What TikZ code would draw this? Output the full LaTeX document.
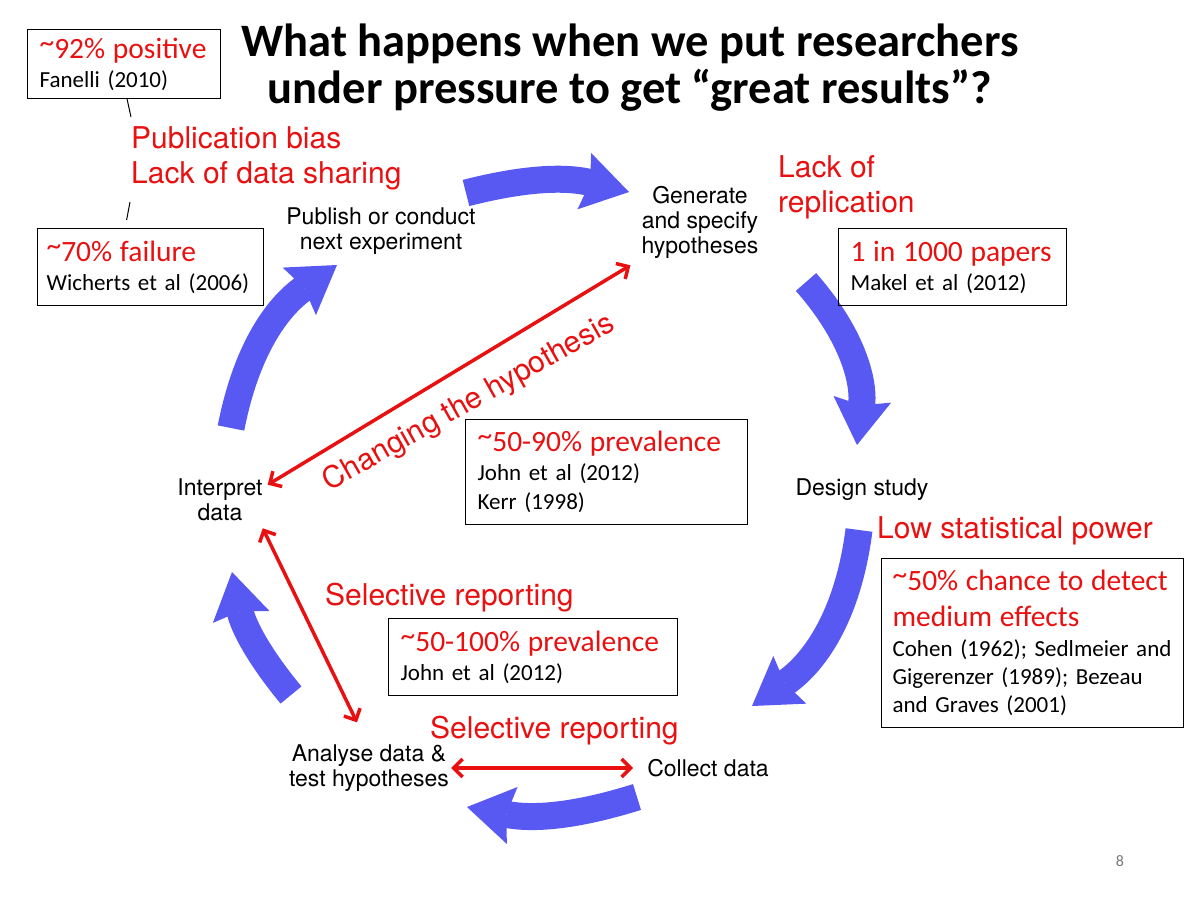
\documentclass[tikz,border=0pt]{standalone}
\usepackage{fontspec}
\setmainfont{TeX Gyre Heros}
\newfontfamily\calibri[WordSpace={0.75,0,0}]{Carlito}
\newfontfamily\calibrititle{Carlito}
\usepackage{tikz}
\usetikzlibrary{
	arrows.meta,
	calc,
	positioning
}
\definecolor{FlowBlue}{RGB}{88,88,242}
\definecolor{WarnRed}{RGB}{232,16,16}
\definecolor{PageGray}{RGB}{120,120,120}

\newcommand{\stagefont}{\fontsize{23}{25}\selectfont}
\newcommand{\issuefont}{\fontsize{30}{35}\selectfont}
\newcommand{\srcfont}{\calibri\fontsize{23}{29}\selectfont}
\newcommand{\findfont}{\calibri\fontsize{29.5}{30}\selectfont\color{WarnRed}}
\newcommand{\about}{\raisebox{0.2em}{\textasciitilde}}

\begin{document}
\begin{tikzpicture}[x=1pt, y=1pt,
		flow/.style={line width=27pt, draw=FlowBlue,
			-{Stealth[length=46pt, width=58pt, inset=6pt, line width=0pt]}},
		link/.style={draw=WarnRed, line width=3.5pt,
			{Straight Barb[length=9pt, width=18pt]}-{Straight Barb[length=9pt, width=18pt]}},
		stage/.style={font=\stagefont, align=center, inner sep=0pt},
		issue/.style={font=\issuefont, text=WarnRed, align=left, inner sep=0pt},
		refbox/.style={draw, line width=1.2pt, font=\srcfont, align=left,
			inner xsep=12pt, anchor=north west},
		tick/.style={line width=1pt}]
		\useasboundingbox (0,0) rectangle (1200,-900);
		% title
		\node[font=\calibrititle\bfseries\fontsize{46.5}{47}\selectfont, align=center] (title) at (630,-68)
			{What happens when we put researchers\\under pressure to get “great results”?};
		% blue cycle arrows
		\coordinate (f1s) at (466,-193);
		\coordinate (f1e) at (629,-192);
		\coordinate (f2s) at (806,-282);
		\coordinate (f2e) at (857,-445);
		\coordinate (f3s) at (859,-530);
		\coordinate (f3e) at (752,-706);
		\coordinate (f4s) at (637,-797);
		\coordinate (f4e) at (467,-807);
		\coordinate (f5s) at (291,-695);
		\coordinate (f5e) at (232,-572);
		\coordinate (f6s) at (231,-428);
		\coordinate (f6e) at (337,-265);
		\draw[flow] (f1s) to[bend left=14] (f1e);
		\draw[flow] (f2s) to[bend left=24] (f2e);
		\draw[flow] (f3s) to[bend left=24] (f3e);
		\draw[flow] (f4s) to[bend left=14] (f4e);
		\draw[flow] (f5s) to[bend left=14] (f5e);
		\draw[flow] (f6s) to[bend left=22] (f6e);
		% stages
		\node[stage] (pub) at (381,-231) {Publish or conduct\\next experiment};
		\node[stage] (gen) at (700,-222) {Generate\\and specify\\hypotheses};
		\node[stage] (design) at (862,-490) {Design study};
		\node[stage] (collect) at (708,-768) {Collect data};
		\node[stage] (analyse) at (369,-768) {Analyse data \&\\test hypotheses};
		\node[stage] (interp) at (220,-500) {Interpret\\data};
		% problems
		\node[issue, anchor=west] (bias) at (131,-158) {Publication bias\\Lack of data sharing};
		\node[issue, anchor=west] (replic) at (778,-187) {Lack of\\replication};
		\node[issue, anchor=base west] (power) at (877,-538) {Low statistical power};
		\node[issue, anchor=base west] (selrepA) at (325,-605) {Selective reporting};
		\node[issue, anchor=base west] (selrepB) at (430,-738) {Selective reporting};
		\node[issue, anchor=base, rotate=29.5] (change) at (473,-410) {Changing the hypothesis};
		% evidence boxes
		\node[refbox, text width=169pt, minimum height=69pt] (box92) at (27,-29)
			{{\findfont \about92\% positive}\\Fanelli (2010)};
		\node[refbox, text width=208pt, inner xsep=9pt, minimum height=77pt] (box70) at (37,-228)
			{{\findfont \about70\% failure}\\\mbox{Wicherts et al (2006)}};
		\node[refbox, text width=204pt, minimum height=77pt] (box1000) at (838,-228)
			{{\findfont 1 in 1000 papers}\\Makel et al (2012)};
		\node[refbox, text width=258pt, minimum height=105pt] (box5090) at (465,-419)
			{{\findfont \about50-90\% prevalence}\\John et al (2012)\\Kerr (1998)};
		\node[refbox, text width=265pt, minimum height=77pt] (box50100) at (388,-618)
			{{\findfont \about50-100\% prevalence}\\John et al (2012)};
		\node[refbox, text width=280pt, inner xsep=11pt, minimum height=169pt] (box50) at (881,-558)
			{{\findfont \about50\% chance to detect}\\[7pt]{\findfont medium effects}\\[1pt]
			Cohen (1962); Sedlmeier and\\[-1pt]Gigerenzer (1989); Bezeau\\[-1pt]and Graves (2001)};
		% ticks to the bias label
		\coordinate (tickA) at (131,-117);
		\coordinate (tickB) at (130,-202);
		\draw[tick] ([xshift=3pt]box92.south) -- (tickA);
		\draw[tick] (tickB) -- ([shift={(-24,8)}]box70.north);
		% red links
		\draw[link] ([shift={(5,-6)}]interp.north east) -- ([shift={(-11,-7)}]gen.south west);
		\draw[link] ([shift={(0,-7)}]interp.south east) -- ([shift={(-12,22)}]analyse.north);
		\draw[link] ([xshift=2pt]analyse.east) -- ([xshift=-14pt]collect.west);
		% slide number
		\node[font=\calibri\fontsize{16}{16}\selectfont, text=PageGray] (pagenum) at (1120,-861) {8};
	\end{tikzpicture}
\end{document}
